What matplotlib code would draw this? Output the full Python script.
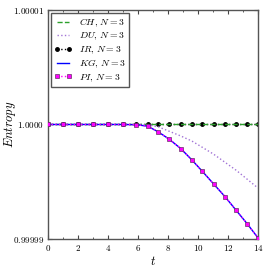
import numpy as np
import matplotlib
matplotlib.use("Agg")
import matplotlib.pyplot as plt
from matplotlib.ticker import MultipleLocator, FixedLocator, FuncFormatter, FixedFormatter

plt.rcParams["mathtext.fontset"] = "cm"
plt.rcParams["font.family"] = "serif"
plt.rcParams["font.serif"] = ["DejaVu Serif"]

# sample times (non-uniform, as read from markers)
t = [0, 1, 2, 3, 4, 5, 5.9, 6.65, 7.35, 8.1, 8.85, 9.6, 10.3, 11.05, 11.8, 12.55, 13.3, 14]

# deviations below 1, in units of 1e-5
dev_kg = [0, 0, 0, 0, 0, 0, 0.002, 0.015, 0.064, 0.13, 0.21, 0.31, 0.41, 0.52, 0.63, 0.75, 0.87, 0.99]
dev_du = [0, 0, 0, 0, 0, 0, 0.0, 0.005, 0.02, 0.06, 0.1, 0.145, 0.2, 0.26, 0.33, 0.4, 0.48, 0.555]

ch = [1.0 for _ in t]
ir = [1.0 for _ in t]
du = [1.0 - d * 1e-5 for d in dev_du]
kg = [1.0 - d * 1e-5 for d in dev_kg]
pi = list(kg)

yticks = [0.99999, 1.0, 1.00001]
yticklabels = [r"$0.99999$", r"$1.0000$", r"$1.00001$"]

fig = plt.figure(figsize=(2.69, 2.69), dpi=100)
ax = fig.add_axes([0.178, 0.1115, 0.781, 0.8515])

ax.plot(t, ch, color="#2ca02c", linestyle="--", lw=1.0, label=r"$CH,\,N=3$", zorder=3)
ax.plot(t, du, color="#a274d6", linestyle=":", lw=1.0, label=r"$DU,\,N=3$", zorder=3)
ax.plot(t, ir, color="black", linestyle=":", lw=1.0, marker="o", markersize=2.5,
        label=r"$IR,\,N=3$", zorder=2)
ax.plot(t, kg, color="blue", linestyle="-", lw=1.0, label=r"$KG,\,N=3$", zorder=4)
ax.plot(t, pi, color="magenta", linestyle=":", lw=1.0, marker="s", markersize=3,
        markeredgecolor="#663366", markeredgewidth=0.5, label=r"$PI,\,N=3$", zorder=5)

ax.set_xlim(0, 14)
ax.set_ylim(0.99999, 1.00001)
ax.xaxis.set_major_locator(MultipleLocator(2))
ax.xaxis.set_minor_locator(MultipleLocator(1))
ax.xaxis.set_major_formatter(FuncFormatter(lambda v, p: r"$%d$" % round(v)))
ax.yaxis.set_major_locator(FixedLocator(yticks))
ax.yaxis.set_major_formatter(FixedFormatter(yticklabels))
ax.tick_params(which="both", direction="in", top=True, right=True, labelsize=6.5, color="#444444")
ax.tick_params(which="major", length=3, pad=3)
ax.tick_params(which="minor", length=1.5)

for s in ax.spines.values():
    s.set_color("#555555")
    s.set_linewidth(1.0)

ax.set_xlabel(r"$t$", fontsize=9, labelpad=1)
ax.set_ylabel(r"$Entropy$", fontsize=9, labelpad=-4)

leg = ax.legend(loc="upper left", fontsize=7, fancybox=False, framealpha=1, numpoints=2,
                edgecolor="#555555", handlelength=1.8, borderpad=0.35, labelspacing=0.2,
                handletextpad=0.7, borderaxespad=0.3)
leg.get_frame().set_linewidth(1.0)

fig.savefig("out.png", dpi=100)
